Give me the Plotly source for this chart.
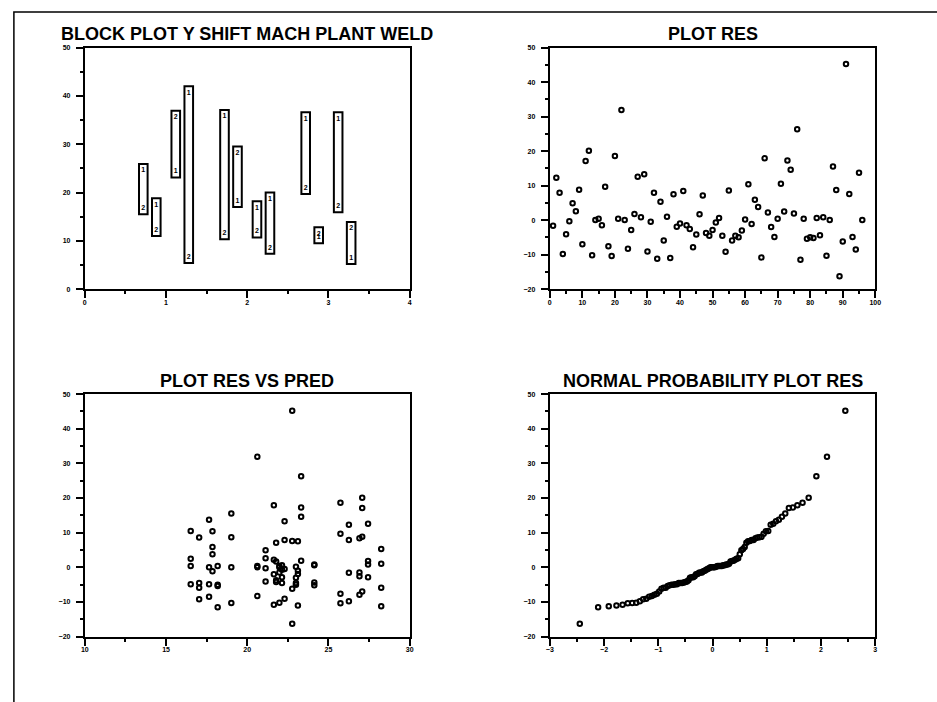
import plotly.graph_objects as go
from statistics import NormalDist

# ---------------- data ----------------
# Block plot: 12 blocks (shift/mach/plant), weld 1 and weld 2 values
block_x = [0.72, 0.88, 1.12, 1.28, 1.72, 1.88, 2.12, 2.28, 2.72, 2.88, 3.12, 3.28]
weld1 = [24.5, 17.4, 24.3, 40.6, 35.7, 18.2, 16.8, 18.6, 35.2, 10.7, 35.2, 6.4]
weld2 = [16.7, 12.2, 35.5, 6.6, 11.5, 28.1, 11.9, 8.5, 20.9, 11.4, 17.1, 12.5]

# Residuals (run order 1..96)
res = [-1.6, 12.3, 7.9, -9.8, -4.1, -0.3, 4.9, 2.6, 8.8, -7.0, 17.1, 20.1,
       -10.2, 0.05, 0.4, -1.5, 9.7, -7.6, -10.4, 18.6, 0.4, 31.9, 0.05, -8.3,
       -2.9, 1.8, 12.6, 0.8, 13.3, -9.1, -0.5, 7.9, -11.2, 5.3, -5.9, 1.0,
       -11.0, 7.5, -1.9, -1.0, 8.4, -1.5, -2.6, -7.9, -4.2, 1.7, 7.1, -3.7,
       -4.5, -2.9, -0.7, 0.6, -4.5, -9.2, 8.6, -5.9, -4.5, -5.0, -3.0, 0.2,
       10.4, -1.1, 5.9, 3.8, -10.8, 17.9, 2.2, -2.0, -4.9, 0.4, 10.5, 2.5,
       17.3, 14.6, 1.9, 26.3, -11.5, 0.4, -5.4, -5.0, -5.2, 0.6, -4.4, 0.8,
       -10.3, 0.05, 15.5, 8.7, -16.3, -6.2, 45.2, 7.6, -4.9, -8.5, 13.7, 0.05]

# Predicted value of each cell of 4 consecutive runs
cell_pred = [26.26, 21.13, 27.08, 21.98, 25.74, 20.62, 27.44, 22.30,
             28.25, 23.12, 26.91, 21.78, 22.14, 17.04, 23.00, 17.86,
             21.64, 16.52, 23.32, 18.18, 24.13, 19.02, 22.77, 17.65]

run = list(range(1, len(res) + 1))
pred = [cell_pred[i // 4] for i in range(len(res))]

n = len(res)
med = []
for i in range(1, n + 1):
    if i == n:
        m = 0.5 ** (1.0 / n)
    elif i == 1:
        m = 1 - 0.5 ** (1.0 / n)
    else:
        m = (i - 0.3175) / (n + 0.365)
    med.append(m)
theo = [NormalDist().inv_cdf(m) for m in med]
res_sorted = sorted(res)

# ---------------- figure ----------------
W, H = 937, 702
FONT = "Liberation Sans"


def px_x(p):
    return p / W


def px_y(p):
    return 1 - p / H


fig = go.Figure()

dom = {
    1: ([px_x(81.7), px_x(410)], [px_y(288), px_y(44)]),
    2: ([px_x(551.7), px_x(880.7)], [px_y(288), px_y(44)]),
    3: ([px_x(81.7), px_x(410)], [px_y(639), px_y(394)]),
    4: ([px_x(551.7), px_x(880.7)], [px_y(639), px_y(394)]),
}
ranges = {
    1: ([0, 4], 1, 0.5, [0, 50], 10, 5),
    2: ([0, 100], 10, 5, [-20, 50], 10, 5),
    3: ([10, 30], 5, 2.5, [-20, 50], 10, 5),
    4: ([-3, 3], 1, 0.5, [-20, 50], 10, 5),
}

tickfont = dict(family=FONT, size=7, color="black", weight="bold")
for k in range(1, 5):
    xd, yd = dom[k]
    xr, xdt, xmn, yr, ydt, ymn = ranges[k]
    sfx = "" if k == 1 else str(k)
    common = dict(showgrid=False, zeroline=False, showline=True, mirror=True,
                  linecolor="black", linewidth=2, ticks="outside", ticklen=7,
                  tickwidth=1.5, tickcolor="black", tickfont=tickfont,
                  fixedrange=True)
    fig.layout["xaxis" + sfx] = dict(domain=xd, range=xr, tick0=xr[0], dtick=xdt,
                                     anchor="y" + sfx, ticklabelstandoff=-2,
                                     minor=dict(dtick=xmn, tick0=xr[0], ticks="outside",
                                                ticklen=3, tickwidth=1.5, tickcolor="black"),
                                     **common)
    fig.layout["yaxis" + sfx] = dict(domain=yd, range=yr, tick0=yr[0], dtick=ydt,
                                     anchor="x" + sfx, ticklabelstandoff=4,
                                     minor=dict(dtick=ymn, tick0=yr[0], ticks="outside",
                                                ticklen=3, tickwidth=1.5, tickcolor="black"),
                                     **common)

# Block plot boxes
bw = 0.053
shapes = []
for bx, a, b in zip(block_x, weld1, weld2):
    lo, hi = min(a, b), max(a, b)
    shapes.append(dict(type="rect", xref="x", yref="y", x0=bx - bw, x1=bx + bw,
                       y0=lo - 1.2, y1=hi + 1.4, line=dict(color="black", width=2),
                       fillcolor="white", layer="below"))
# outer page frame
shapes.append(dict(type="rect", xref="paper", yref="paper", x0=px_x(10), x1=1.2,
                   y0=-0.2, y1=px_y(8), line=dict(color="black", width=1.5)))
fig.update_layout(shapes=shapes)

lblfont = dict(family=FONT, size=7, color="black", weight="bold")
fig.add_trace(go.Scatter(x=block_x, y=weld1, mode="text", text=["1"] * len(block_x),
                         textfont=lblfont, textposition="middle center",
                         xaxis="x", yaxis="y", hoverinfo="skip"))
fig.add_trace(go.Scatter(x=block_x, y=weld2, mode="text", text=["2"] * len(block_x),
                         textfont=lblfont, textposition="middle center",
                         xaxis="x", yaxis="y", hoverinfo="skip"))

mk = dict(symbol="circle-open", size=4.5, color="black", line=dict(width=2, color="black"))
fig.add_trace(go.Scatter(x=run, y=res, mode="markers", marker=mk, xaxis="x2", yaxis="y2"))
fig.add_trace(go.Scatter(x=pred, y=res, mode="markers", marker=mk, xaxis="x3", yaxis="y3"))
fig.add_trace(go.Scatter(x=theo, y=res_sorted, mode="markers", marker=mk, xaxis="x4", yaxis="y4"))

titles = [
    ("BLOCK PLOT Y SHIFT MACH PLANT WELD", 245.8, 30.5),
    ("PLOT RES", 716.2, 30.5),
    ("PLOT RES VS PRED", 245.8, 380.7),
    ("NORMAL PROBABILITY PLOT RES", 716.2, 380.7),
]
ann = []
for t, cx, cy in titles:
    ann.append(dict(text=t, x=px_x(cx), y=px_y(cy), xref="paper", yref="paper",
                    xanchor="center", yanchor="middle", showarrow=False,
                    font=dict(family=FONT, size=18, color="black", weight="bold")))
fig.update_layout(annotations=ann)

fig.update_layout(width=W, height=H, margin=dict(l=0, r=0, t=0, b=0),
                  paper_bgcolor="white", plot_bgcolor="white", showlegend=False)

fig.write_html("out.html", config={"displayModeBar": False},
               post_script="document.body.style.margin='0';document.body.style.overflow='hidden';")
